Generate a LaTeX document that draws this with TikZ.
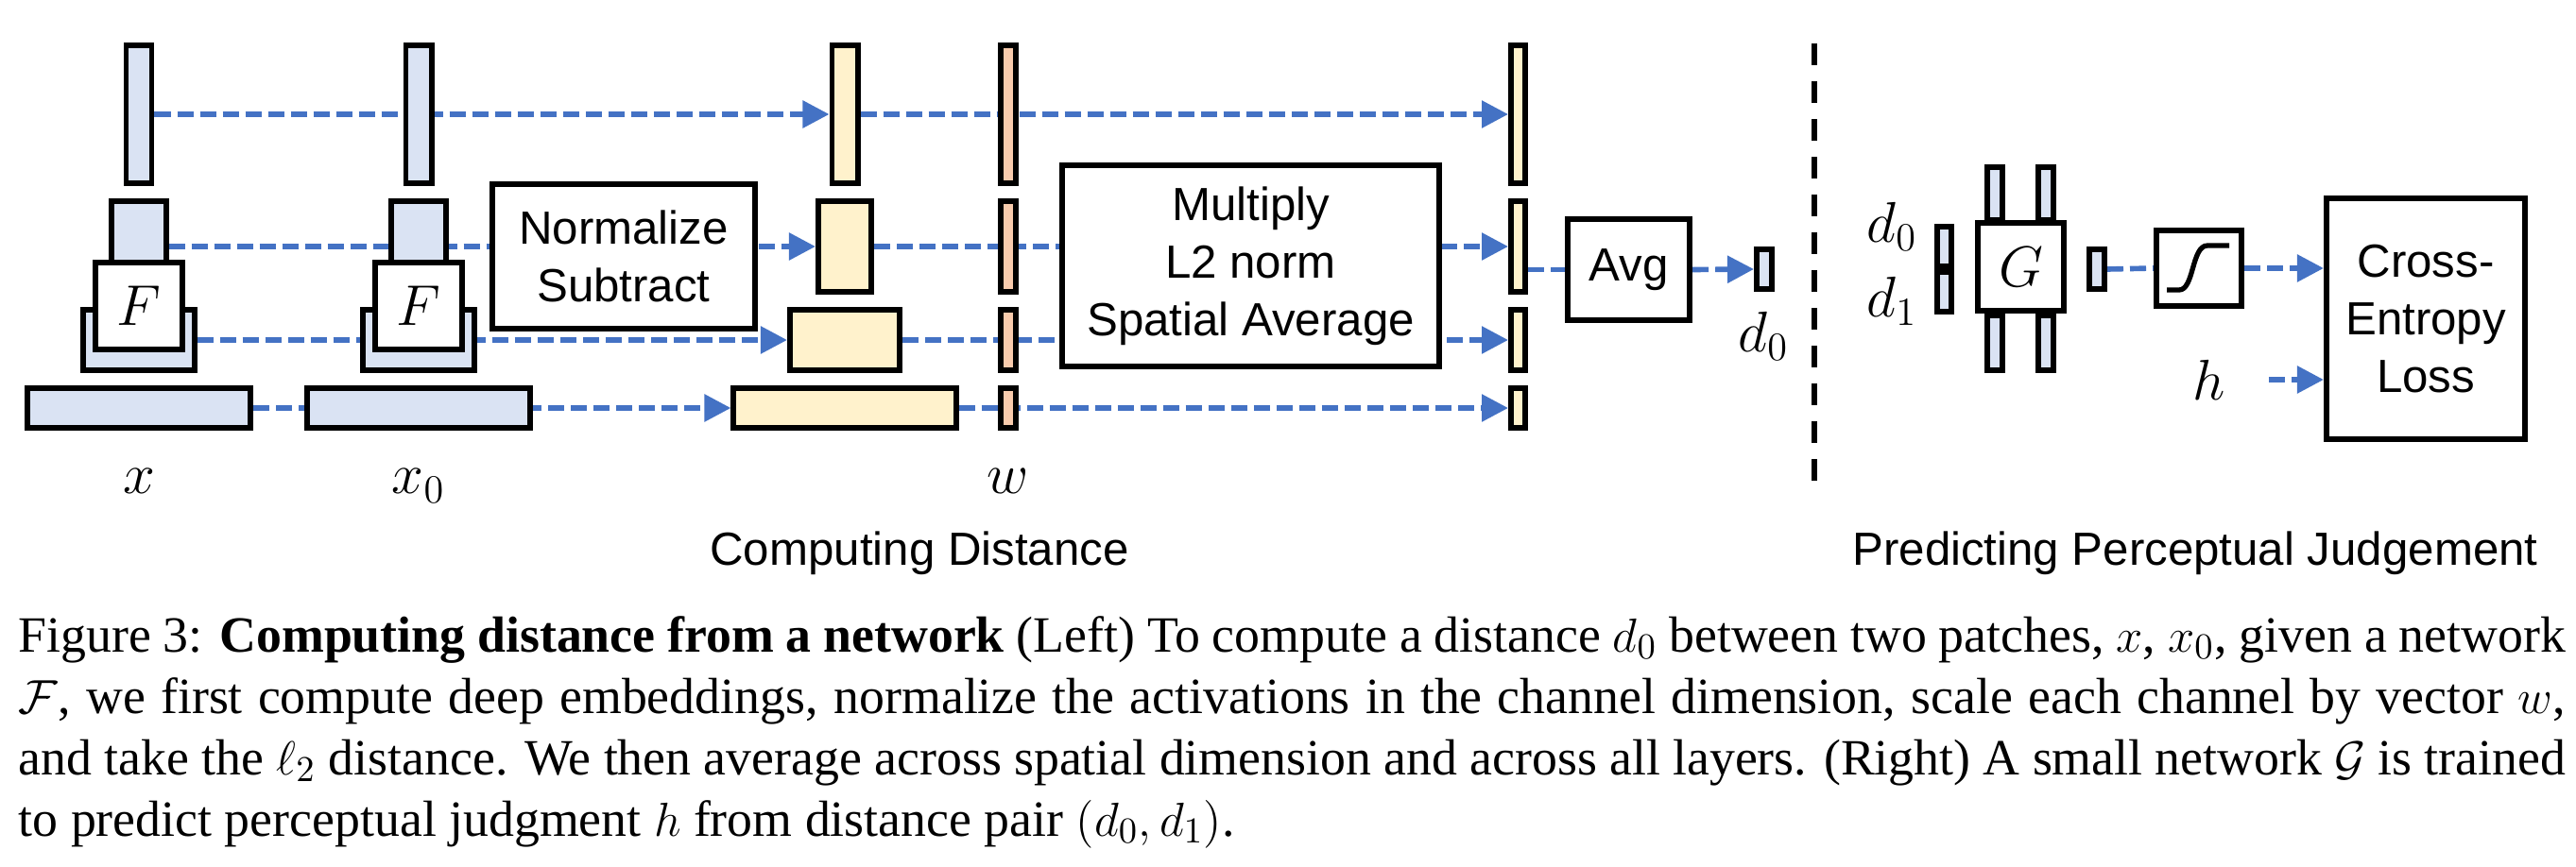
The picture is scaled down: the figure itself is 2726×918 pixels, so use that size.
\documentclass[tikz,border=0pt]{standalone}
\usepackage{amsmath,amssymb}
\usepackage{fontspec}
\setmainfont{Liberation Serif}
\setsansfont{Liberation Sans}
\usetikzlibrary{arrows.meta,backgrounds,positioning,calc}
\definecolor{featblue}{RGB}{218,227,243}
\definecolor{featyellow}{RGB}{255,242,204}
\definecolor{weightorange}{RGB}{248,203,173}
\definecolor{flowblue}{RGB}{68,114,196}
\newcommand{\opfont}{\sffamily\fontsize{14}{17.3}\selectfont}
\newcommand{\lblfont}{\fontsize{17.5}{20}\selectfont}
\newcommand{\capfont}{\rmfamily\fontsize{15.3}{18.5}\selectfont}

\begin{document}
\begin{tikzpicture}[x=0.01cm,y=-0.01cm,
  layer/.style 2 args={draw,line width=1.7pt,inner sep=0pt,minimum width=#1,minimum height=#2},
  opbox/.style={draw,line width=1.7pt,fill=white,inner sep=0pt,align=center,font=\opfont},
  lbl/.style={font=\lblfont,inner sep=0pt},
  flow/.style={draw=flowblue,line width=1.6pt,dash pattern=on 0.17cm off 0.07cm},
  flowto/.style={flow,-{Triangle[length=0.28cm,width=0.28cm]}}]
\useasboundingbox (0,0) rectangle (2726,918);

% LEFT: deep features of x and x0
\node[layer={0.27cm}{1.45cm},fill=featblue] (xa1) at (147,121) {};
\node[layer={0.57cm}{0.95cm},fill=featblue] (xa2) at (147,261) {};
\node[layer={1.17cm}{0.64cm},fill=featblue] (xa3) at (147,360) {};
\node[layer={2.36cm}{0.42cm},fill=featblue] (xa4) at (147,432) {};
\node[opbox,minimum width=0.91cm,minimum height=0.92cm,font=\lblfont] (fa) at (147,324) {$F$};
\node[lbl,below=0.4cm of xa4] (xl) {$x$};

\node[layer={0.27cm}{1.45cm},fill=featblue] (xb1) at (443,121) {};
\node[layer={0.57cm}{0.95cm},fill=featblue] (xb2) at (443,261) {};
\node[layer={1.17cm}{0.64cm},fill=featblue] (xb3) at (443,360) {};
\node[layer={2.36cm}{0.42cm},fill=featblue] (xb4) at (443,432) {};
\node[opbox,minimum width=0.91cm,minimum height=0.92cm,font=\lblfont] (fb) at (443,324) {$F$};
\node[lbl,below=0.4cm of xb4] (xbl) {$x_0$};

\node[opbox,minimum width=2.78cm,minimum height=1.53cm] (norm) at (660,271.5) {Normalize\\Subtract};

% differences, weights w, and per-layer distances
\node[layer={0.27cm}{1.45cm},fill=featyellow] (ya1) at (894,121) {};
\node[layer={0.56cm}{0.95cm},fill=featyellow] (ya2) at (894,261) {};
\node[layer={1.16cm}{0.64cm},fill=featyellow] (ya3) at (894,360) {};
\node[layer={2.35cm}{0.42cm},fill=featyellow] (ya4) at (894,432) {};

\node[layer={0.16cm}{1.45cm},fill=weightorange] (wa1) at (1067,121) {};
\node[layer={0.16cm}{0.95cm},fill=weightorange] (wa2) at (1067,261) {};
\node[layer={0.16cm}{0.64cm},fill=weightorange] (wa3) at (1067,360) {};
\node[layer={0.16cm}{0.42cm},fill=weightorange] (wa4) at (1067,432) {};
\node[lbl,below=0.4cm of wa4] (wl) {$w$};

\node[opbox,minimum width=3.99cm,minimum height=2.13cm] (mult) at (1323.5,281.5) {Multiply\\L2 norm\\Spatial Average};

\node[layer={0.15cm}{1.45cm},fill=featyellow] (za1) at (1606.5,121) {};
\node[layer={0.15cm}{0.95cm},fill=featyellow] (za2) at (1606.5,261) {};
\node[layer={0.15cm}{0.64cm},fill=featyellow] (za3) at (1606.5,360) {};
\node[layer={0.15cm}{0.42cm},fill=featyellow] (za4) at (1606.5,432) {};

\node[opbox,minimum width=1.29cm,minimum height=1.07cm] (avg) at (1723.5,285.5) {Avg};
\node[layer={0.16cm}{0.42cm},fill=featblue] (dz) at (1867,285) {};
\node[lbl,anchor=base] (dzl) at (1866,372) {$d_0$};

\node[font=\opfont,anchor=base] (lefttitle) at (973,598) {Computing Distance};

% separator
\coordinate (septop) at (1920,46);
\coordinate (sepbot) at (1920,509);
\draw[line width=1.7pt,dash pattern=on 0.23cm off 0.17cm] (septop) -- (sepbot);

% RIGHT: small network G on (d0,d1)
\node[layer={0.15cm}{0.42cm},fill=featblue] (pa) at (2057.5,261) {};
\node[layer={0.15cm}{0.42cm},fill=featblue] (pb) at (2057.5,309) {};
\node[lbl,anchor=base] (pal) at (2002,256) {$d_0$};
\node[lbl,anchor=base] (pbl) at (2002,335) {$d_1$};
\node[layer={0.16cm}{0.56cm},fill=featblue] (ga1) at (2111,205) {};
\node[layer={0.16cm}{0.56cm},fill=featblue] (ga2) at (2165,205) {};
\node[layer={0.16cm}{0.58cm},fill=featblue] (gb1) at (2111,363) {};
\node[layer={0.16cm}{0.58cm},fill=featblue] (gb2) at (2165,363) {};
\node[opbox,minimum width=0.91cm,minimum height=0.93cm,font=\lblfont] (gnet) at (2138.5,282.5) {$G$};
\node[layer={0.16cm}{0.42cm},fill=featblue] (gout) at (2219,285) {};
\node[opbox,minimum width=0.90cm,minimum height=0.80cm] (sig) at (2327,284) {};
\draw[line width=1.5pt] ($(sig)+(-34,23)$) -- ($(sig)+(-21,23)$)
  .. controls ($(sig)+(-5,23)$) and ($(sig)+(-8,-24)$) .. ($(sig)+(9,-24)$) -- ($(sig)+(32,-24)$);
\node[opbox,minimum width=2.10cm,minimum height=2.55cm] (loss) at (2567,337.5) {Cross-\\Entropy\\Loss};
\node[lbl] (hl) at (2338,402) {$h$};

\node[font=\opfont,anchor=base] (righttitle) at (2323,598) {Predicting Perceptual Judgement};

% connectors
\begin{scope}[on background layer]
  \draw[flowto] (xa1.east) -- (ya1.west);
  \draw[flowto] (xa2.east) -- (ya2.west);
  \draw[flowto] (xa3.east) -- (ya3.west);
  \draw[flowto] (xa4.east) -- (ya4.west);
  \draw[flowto] (ya1.east) -- (za1.west);
  \draw[flowto] (ya2.east) -- (za2.west);
  \draw[flowto] (ya3.east) -- (za3.west);
  \draw[flowto] (ya4.east) -- (za4.west);
  \draw[flow] (za2.east |- avg.west) -- (avg.west);
  \draw[flowto] (avg.east) -- (dz.west);
  \draw[flow] (gout.east) -- (sig.west);
  \draw[flowto] (sig.east) -- (sig.east -| loss.west);
  \draw[flowto] ([xshift=0.45cm]hl.east) -- (hl.east -| loss.west);
\end{scope}

% caption
\node[font=\capfont,anchor=base west,inner sep=0pt] (cap1) at (19,690) {\makebox[26.94cm][s]{Figure 3: \textbf{Computing distance from a network} (Left) To compute a distance $d_0$ between two patches, $x$, $x_0$, given a network}};
\node[font=\capfont,anchor=base west,inner sep=0pt] (cap2) at (19,755) {\makebox[26.94cm][s]{$\mathcal{F}$, we first compute deep embeddings, normalize the activations in the channel dimension, scale each channel by vector $w$,}};
\node[font=\capfont,anchor=base west,inner sep=0pt] (cap3) at (19,820) {\makebox[26.94cm][s]{and take the $\ell_2$ distance. We then average across spatial dimension and across all layers. (Right) A small network $\mathcal{G}$ is trained}};
\node[font=\capfont,anchor=base west,inner sep=0pt] (cap4) at (19,885) {to predict perceptual judgment $h$ from distance pair $(d_0, d_1)$.};
\end{tikzpicture}
\end{document}
